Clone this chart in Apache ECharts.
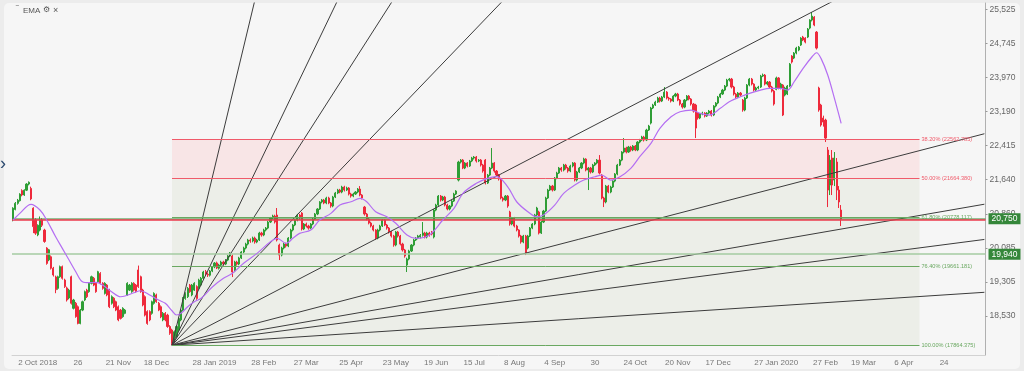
<!DOCTYPE html>
<html><head><meta charset="utf-8">
<script src="https://cdn.jsdelivr.net/npm/echarts@6/dist/echarts.min.js"></script>
<style>html,body{margin:0;padding:0;background:#ececec;}#c{width:1024px;height:371px;}</style>
</head><body><div id="c"></div>
<script>
// ---------- data (open, close, low, high) ----------
const ohlc2018 = [
[20720,20990,20690,21010],[20960,21100,20940,21130],[21100,21170,21070,21200],[21160,21310,21140,21330],[21390,21290,21260,21420],
[21290,21400,21270,21420],[21400,21540,21380,21560],[21540,21580,21510,21600],[21440,21200,21170,21480],[20990,20570,20420,21010],
[20720,20420,20380,20760],[20380,20600,20350,20620],[20490,20720,20460,20800],[20720,20600,20560,20760],[20490,20230,20200,20520],
[20080,19730,19700,20100],[19810,20040,19780,20060],[19880,19620,19590,19910],[19620,19465,19430,19650],[19420,19130,19050,19450],
[19160,19425,19130,19450],[19425,19655,19400,19680],[19655,19390,19360,19680],[19350,19200,19170,19380],[19170,18895,18860,19200],
[18940,19120,18910,19150],[19425,18820,18790,19450],[18705,18895,18680,18920],[18820,18515,18490,18850],[18740,18360,18340,18770],
[18360,18665,18340,18690],[18665,18855,18640,18880],[18895,19085,18870,19110],[19120,18970,18940,19150],[19085,19275,19060,19300],
[19275,19425,19250,19450],[19390,19235,19210,19420],[19275,19085,19060,19300],[19310,19540,19290,19560],[19500,19275,19250,19530],
[19275,19160,19130,19300],[19045,19275,19020,19300],[19235,19010,18980,19260],[19120,18740,18710,19150],[18820,18970,18790,19000],
[18935,18740,18710,18960],[18855,18665,18640,18880],[18740,18440,18410,18770],[18665,18475,18450,18690],[18515,18705,18490,18730],
[18590,18665,18570,18690],[19010,19275,18990,19300],[19120,19235,19100,19260],[19085,19275,19060,19300],[19275,19120,19090,19300],
[19235,19085,19060,19260],[19580,19200,19170,19680],[19425,19085,19060,19450],[19120,18780,18750,19150],[18970,18550,18520,19000],
[18630,18360,18330,18660],[18630,18440,18410,18660],[18590,18855,18560,18880],[18820,19045,18790,19070],[19010,18855,18830,19040],
[18820,18665,18640,18850],[18740,18510,18480,18770],[18440,18590,18410,18620],[18590,18440,18410,18620],[18550,18290,18260,18580],
[18290,18135,18100,18320],[18210,17905,17864,18240],[17950,18170,17920,18200]
];
const ohlc2019 = [
[18060,18290,18030,18320],[18210,18475,18180,18500],[18440,18665,18410,18690],[18665,18930,18640,18960],[18930,19045,18900,19070],
[18970,19160,18940,19190],[19235,19085,19060,19260],[19010,19235,18980,19260],[19120,19275,19100,19300],[19200,18930,18900,19230],
[19160,19350,19130,19380],[19235,19390,19210,19420],[19390,19533,19360,19560],[19540,19487,19450,19580],[19480,19464,19420,19520],
[19460,19555,19430,19580],[19555,19647,19530,19670],[19650,19738,19620,19760],[19740,19624,19600,19770],[19620,19692,19590,19720],
[19690,19761,19660,19790],[19760,19715,19680,19790],[19715,19806,19690,19830],[19806,19898,19780,19920],[19898,19966,19870,19990],
[19898,19533,19418,19930],[19560,19761,19530,19790],[19761,19715,19680,19790],[19715,19852,19690,19880],[19852,19989,19830,20010],
[19989,20080,19960,20110],[20080,20171,20050,20200],[20171,20263,20140,20290],[20263,20240,20200,20300],[20240,20308,20210,20340],
[20308,20217,20180,20340],[20217,20263,20190,20290],[20263,20422,20240,20450],[20422,20377,20340,20450],[20377,20491,20350,20520],
[20491,20536,20460,20560],[20536,20673,20510,20700],[20673,20764,20650,20790],[20764,20810,20740,20840],[20810,20673,20640,20840],
[20833,20263,20230,20993],[20149,19920,19806,20180],[19920,20080,19890,20110],[20080,20171,20050,20200],[20171,20126,20090,20200],
[20126,20308,20100,20330],[20308,20491,20280,20520],[20491,20605,20460,20630],[20605,20719,20580,20740],[20719,20833,20690,20860],
[20833,20764,20730,20860],[20878,20514,20480,20900],[20514,20628,20490,20650],[20628,20582,20550,20660],[20582,20536,20500,20610],
[20536,20628,20510,20650],[20628,20742,20600,20770],[20742,20856,20720,20880],[20856,20970,20830,20990],[20970,21130,20950,21150],
[21130,21175,21100,21200],[21175,21107,21080,21200],[21107,21221,21080,21250],[21221,21107,21080,21250],[21107,21038,21000,21130],
[21038,21243,21010,21270],[21243,21335,21220,21360],[21335,21403,21310,21430],[21403,21358,21330,21430],[21358,21472,21330,21500],
[21472,21403,21370,21500],[21403,21449,21380,21480],[21449,21312,21280,21470],[21312,21266,21230,21340],[21266,21312,21240,21340],
[21312,21358,21290,21380],[21358,21426,21330,21450],[21426,21289,21260,21494],[21289,21221,21190,21310],[21015,20856,20820,21040],
[20856,20742,20710,20880],[20742,20650,20620,20770],[20650,20582,20550,20680],[20582,20491,20460,20610],[20491,20308,20270,20510],
[20308,20491,20280,20520],[20491,20582,20460,20610],[20582,20719,20560,20740],[20719,20605,20580,20740],[20605,20536,20500,20630],
[20536,20445,20410,20560],[20445,20354,20320,20470],[20354,20149,20110,20380],[20149,20445,20120,20470],[20445,20354,20320,20470],
[20354,20171,20140,20380],[20171,20035,20000,20200],[20035,19898,19860,20060],[19692,19829,19533,19860],[19829,20012,19800,20040],
[20012,20149,19990,20170],[20149,20263,20120,20290],[20263,20308,20240,20330],[20308,20354,20280,20380],[20330,20370,20300,20400],
[20370,20422,20340,20673],[20422,20331,20300,20450],[20331,20422,20300,20450],[20422,20377,20340,20450],[20445,20400,20370,20470],
[20331,20947,20300,20970],[20947,21061,20920,21090],[21061,21266,21040,21290],[21266,21175,21140,21290],[21175,21243,21150,21270],
[21243,21061,21030,21270],[21061,20970,20940,21090],[20970,21038,20940,21060],[21038,21152,21010,21180],[21152,21312,21130,21340],
[21312,21380,21290,21400],[21631,22042,21600,22070],[22042,22087,22010,22110],[22087,21905,21880,22110],[21905,22019,21880,22040],
[22019,21951,21920,22040],[21951,22065,21930,22090],[22065,22133,22040,22160],[22133,22156,22100,22180],[22156,22065,22030,22180],
[22065,22087,22040,22110],[22087,21973,21940,22110],[21973,21837,21800,22000],[22087,21563,21530,22110],[21563,21745,21540,21770],
[21745,21905,21720,21930],[21905,22019,21880,22361],[22019,21837,21800,22040],[21837,21745,21710,21860],[21745,21654,21620,21770],
[21654,21221,21190,21680],[21221,21175,21140,21250],[21175,21266,21150,21290],[21266,21038,21000,21290],[20901,20628,20590,20930],
[20628,20764,20600,20790],[20764,20582,20550,20790],[20582,20491,20460,20610],[20491,20354,20320,20510],[20354,20217,20180,20380],
[20217,20354,20190,20380],[20354,19966,19920,20380],[20080,20354,20050,20380],[20354,20536,20330,20560],[20536,20628,20510,20650],
[20628,20833,20600,20860],[20833,20993,20810,21020],[20901,20422,20390,20930],[20422,20673,20400,20700],[20673,20924,20650,20950],
[20924,21221,20900,21250],[21221,21403,21200,21430],[21403,21494,21380,21520],[21494,21403,21370,21520],[21403,21677,21380,21700],
[21677,21791,21650,21820],[21791,21905,21770,21930],[21905,21859,21820,21930],[21859,21973,21830,22000],[21973,21905,21870,22000],
[21905,21837,21800,21930],[21837,21951,21810,21980],[21951,22019,21920,22040],[22019,21631,21600,22040],[21631,21814,21600,21840],
[21814,21905,21790,21930],[21905,22019,21880,22040],[22019,22110,21990,22140],[22110,21859,21830,22130],[21859,21905,21403,21930],
[21905,21814,21780,21930],[21814,21973,21790,22000],[21973,22019,21950,22040],[22019,22087,21990,22110],[22087,21791,21760,22201],
[21745,21221,21190,21770],[21221,21130,21015,21250],[21130,21494,21100,21520],[21494,21358,21330,21520],[21358,21472,21330,21500],
[21472,21608,21450,21630],[21608,21768,21580,21790],[21768,21973,21740,22000],[21973,22087,21950,22110],[22087,22270,22060,22290],
[22270,22361,22240,22589],[22361,22270,22240,22390],[22270,22384,22250,22410],[22384,22316,22280,22410],[22316,22407,22290,22430],
[22407,22316,22290,22430],[22316,22498,22290,22520],[22498,22544,22470,22570],[22544,22612,22520,22640],[22612,22544,22510,22640],
[22544,22772,22520,22800],[22772,22863,22750,22890],[22931,23274,22900,23300],[23274,23342,23250,23370],[23342,23410,23320,23440],
[23410,23502,23390,23530],[23502,23433,23400,23530],[23433,23524,23410,23550],[23524,23638,23500,23753],[23638,23502,23470,23660],
[23502,23479,23440,23530],[23479,23433,23400,23500],[23433,23547,23410,23570],[23547,23593,23520,23620],[23593,23456,23430,23620],
[23456,23365,23330,23480],[23365,23296,23260,23390],[23296,23456,23270,23480],[23456,23547,23430,23570],[23547,23479,23450,23570],
[23479,23365,23330,23500],[23365,23205,23170,23390],[23342,22817,22589,23370],[23159,23046,23010,23180],[23046,23137,23020,23160],
[23137,23159,23110,23190],[23159,23091,23060,23180],[23091,23159,23070,23180],[23159,23205,23130,23230],[23205,23114,23080,23230],
[23114,23319,23090,23340],[23319,23388,23290,23410],[23388,23524,23360,23550],[23524,23593,23500,23620],[23593,23684,23570,23710],
[23684,23775,23660,23800],[23775,23912,23750,23940],[23912,23935,23880,23960],[23935,23753,23720,23960],[23753,23593,23560,23780],
[23593,23524,23490,23620],[23524,23616,23500,23640]
];
const ohlc2020 = [
[23616,23570,23540,23640],[23456,23228,23190,23480],[23228,23502,23200,23530],[23502,23798,23480,23820],[23798,23935,23770,23960],
[23935,23821,23790,23960],[23821,23684,23650,23840],[23684,23730,23650,23760],[23730,23753,23700,23780],[23753,24003,23730,24030],
[24003,24026,23980,24060],[24026,23821,23790,24050],[23821,23867,23790,23890],[23867,23753,23720,23890],[23753,23661,23630,23780],
[23661,23365,23330,23690],[23700,23960,23680,23990],[23960,23730,23700,23980],[23730,23821,23700,23850],[23798,23114,23091,23820],
[23570,23730,23540,23760],[23593,23775,23570,23800],[23775,24277,23750,24300],[24460,24323,24290,24480],[24414,24528,24390,24550],
[24528,24642,24500,24670],[24597,24665,24570,24690],[24711,24870,24690,24890],[24893,24825,24800,24920],[24870,24779,24750,24890],
[24893,25076,24870,25100],[25098,25281,25070,25300],[25281,25372,25250,25464],[25349,25167,25140,25370],[25007,24642,24610,25030],
[23730,23228,23190,23760],[23342,22886,22850,23370],[23046,22954,22850,23100],[23000,22589,22498,23030],[22316,21403,21015,22384],
[21517,22087,21289,22201],[22133,21517,21289,22316],[21631,22133,21494,22270],[22042,21403,21175,22133],[21403,21130,20993,21494],
[20947,20742,20582,21061]
];
// EMA: [bar index, value]
const emaPoints = [
[0,20719],[3,20871],[8,21077],[12,20947],[15,20719],[19,20338],[22,20073],[25,19806],[28,19540],[31,19311],[34,19289],[37,19298],
[40,19236],[44,19083],[48,18969],[50,18985],[54,19060],[57,19106],[61,19008],[65,18894],[68,18819],[71,18650],[73,18552],[75,18590],
[78,18741],[81,18855],[84,18933],[89,19191],[94,19389],[98,19503],[103,19731],[109,19959],[115,20224],[118,20301],[122,20187],
[125,20301],[128,20415],[133,20491],[137,20719],[142,20871],[146,21061],[151,21136],[155,21214],[158,21136],[162,20908],[167,20794],
[171,20644],[176,20377],[180,20301],[186,20377],[192,20719],[197,20985],[201,21328],[207,21556],[212,21670],[216,21707],[221,21478],
[225,21136],[230,20908],[234,20794],[237,20833],[242,21061],[246,21328],[251,21517],[255,21631],[260,21707],[263,21745],[267,21631],
[271,21700],[276,21898],[280,22163],[285,22468],[289,22810],[294,23075],[298,23189],[303,23228],[307,23153],[311,23114],[316,23267],
[320,23417],[325,23531],[329,23609],[334,23684],[338,23723],[343,23723],[346,23684],[349,23873],[353,24179],[357,24444],[359,24535],
[361,24407],[364,24026],[367,23495],[370,22925]
];
// calendar
const firstDay = '2018-09-17', lastDay = '2020-03-09', axisEnd = '2020-05-12';
const holidays = ['2018-11-22','2018-12-05','2018-12-25','2019-01-01','2019-01-21','2019-02-18','2019-04-19','2019-05-27',
  '2019-07-04','2019-09-02','2019-11-28','2019-12-25','2020-01-01','2020-01-20','2020-02-17'];
const xTickLabels = [['2018-10-02','2 Oct 2018'],['2018-10-26','26'],['2018-11-21','21 Nov'],['2018-12-18','18 Dec'],
  ['2019-01-28','28 Jan 2019'],['2019-02-28','28 Feb'],['2019-03-27','27 Mar'],['2019-04-25','25 Apr'],['2019-05-23','23 May'],
  ['2019-06-19','19 Jun'],['2019-07-15','15 Jul'],['2019-08-08','8 Aug'],['2019-09-04','4 Sep'],['2019-09-30','30'],
  ['2019-10-24','24 Oct'],['2019-11-20','20 Nov'],['2019-12-17','17 Dec'],['2020-01-27','27 Jan 2020'],['2020-02-27','27 Feb'],
  ['2020-03-19','19 Mar'],['2020-04-06','6 Apr'],['2020-04-24','24']];
const yTickValues = [18530,19305,20085,20860,21640,22415,23190,23970,24745,25525];
// fibonacci retracement & gann fan anchors
const fibLow = {date:'2018-12-28', value:17864.375};
const fibHigh = {date:'2020-02-19', value:25464.385};
const fibEndDate = '2020-04-13';
const fibLevels = [
  {text:'38.20% (22562.785)', value:22562.785, color:'#f05a6a'},
  {text:'50.00% (21664.380)', value:21664.380, color:'#f05a6a'},
  {text:'61.80% (20778.117)', value:20778.117, color:'#6aa861'},
  {text:'76.40% (19661.181)', value:19661.181, color:'#6aa861'},
  {text:'100.00% (17864.375)', value:17864.375, color:'#6aa861'}
];
const gannRatios = [8,4,3,2,1,1/2,1/3,1/4,1/8];
const priceLines = [
  {value:20750, color:'rgba(70,150,70,0.55)', width:2, tag:'20,750'},
  {value:20720, color:'#ec3a4c', width:1.5, tag:null},
  {value:19940, color:'#a5cba2', width:1.5, tag:'19,940'}
];

// ---------- build ----------
const pad = n => String(n).padStart(2,'0');
const ymd = d => d.getUTCFullYear()+'-'+pad(d.getUTCMonth()+1)+'-'+pad(d.getUTCDate());
const cats = [];
let d = new Date(firstDay+'T00:00:00Z');
while (ymd(d) <= lastDay) { const wd=d.getUTCDay(), k=ymd(d); if (wd!==0 && wd!==6 && !holidays.includes(k)) cats.push(k); d.setUTCDate(d.getUTCDate()+1); }
while (ymd(d) <= axisEnd) { cats.push(ymd(d)); d.setUTCDate(d.getUTCDate()+1); }
const candles = ohlc2018.concat(ohlc2019, ohlc2020);
const labelMap = new Map(xTickLabels);
const fmt = v => String(v).replace(/\B(?=(\d{3})+(?!\d))/g, ',');
const iLow = cats.indexOf(fibLow.date), iHigh = cats.indexOf(fibHigh.date), iEnd = cats.length-1;
const slope = (fibHigh.value-fibLow.value)/(iHigh-iLow);
const FONT = 'Liberation Sans, Arial, sans-serif';

const series = [];
series.push({
  type:'line', data:[[iLow, fibLow.value]], symbol:'none', lineStyle:{opacity:0}, z:1, silent:true,
  markArea:{silent:true, data:[
    [{coord:[iLow, fibLevels[0].value], itemStyle:{color:'#f8e5e6'}}, {coord:[fibEndDate, fibLevels[1].value]}],
    [{coord:[iLow, fibLevels[1].value], itemStyle:{color:'#eceee8'}}, {coord:[fibEndDate, fibLevels[4].value]}]
  ]},
  markLine:{silent:true, symbol:['none','none'], animation:false, data:
    fibLevels.map(f => [{coord:[iLow, f.value], lineStyle:{color:f.color, width:1, type:'solid'},
      label:{show:true, position:'end', distance:2, formatter:f.text, color:f.color, fontSize:5.6, fontFamily:FONT}},
      {coord:[fibEndDate, f.value]}])
    .concat(priceLines.map(p => ({yAxis:p.value, lineStyle:{color:p.color, width:p.width, type:'solid'},
      label: p.tag ? {show:true, position:'end', distance:3, formatter:p.tag, color:'#fff', backgroundColor:'#35873a',
        padding:[1,3,1,3], fontSize:8.5, fontFamily:FONT} : {show:false}})))
  }
});
series.push({
  type:'candlestick', data:candles, z:3, barWidth:'72%',
  itemStyle:{color:'#2f9e36', color0:'#ee2a3c', borderColor:'#2f9e36', borderColor0:'#ee2a3c', borderWidth:1}
});
gannRatios.forEach(r => series.push({
  type:'line', data:[[iLow, fibLow.value],[iEnd, fibLow.value + r*slope*(iEnd-iLow)]], symbol:'none', z:4, silent:true,
  clip:true, lineStyle:{color:'#3c3c3c', width:1}
}));
series.push({type:'line', data:emaPoints, smooth:0.35, symbol:'none', z:5, lineStyle:{color:'#b46ef2', width:1.2}});

const chart = echarts.init(document.getElementById('c'), null, {renderer:'canvas'});
chart.setOption({
  animation:false,
  backgroundColor:'transparent',
  graphic:[
    {type:'rect', z:-100, silent:true, shape:{x:4, y:3, width:1016, height:366, r:5}, style:{fill:'#f6f6f6'}},
    {type:'text', left:16, top:5, style:{text:'‾', fontSize:8, fill:'#444', fontFamily:FONT}},
    {type:'text', left:23, top:7, style:{text:'EMA', fontSize:8, fill:'#555', fontFamily:FONT}},
    {type:'text', left:43, top:6, style:{text:'⚙', fontSize:8, fill:'#555', fontFamily:'DejaVu Sans'}},
    {type:'text', left:53, top:6, style:{text:'×', fontSize:9, fill:'#555', fontFamily:FONT}},
    {type:'text', left:0, top:155, style:{text:'›', fontSize:18, fill:'#2b4a6f', fontFamily:FONT}}
  ],
  grid:{left:12, right:38.5, top:3, bottom:16},
  xAxis:{type:'category', data:cats, boundaryGap:true,
    axisLine:{show:true, lineStyle:{color:'#d2d2d2'}}, axisTick:{show:false}, splitLine:{show:false},
    axisLabel:{interval:(i,v)=>labelMap.has(v), formatter:v=>labelMap.get(v)||'', color:'#777', fontSize:8, margin:4, fontFamily:FONT}},
  yAxis:{type:'value', position:'right', min:17640, max:25670, splitLine:{show:false},
    axisLine:{show:true, lineStyle:{color:'#b0b0b0'}},
    axisTick:{show:true, length:2, customValues:yTickValues, lineStyle:{color:'#999'}},
    axisLabel:{customValues:yTickValues, formatter:fmt, color:'#666', fontSize:8.5, margin:4, fontFamily:FONT}},
  series
});
</script></body></html>
